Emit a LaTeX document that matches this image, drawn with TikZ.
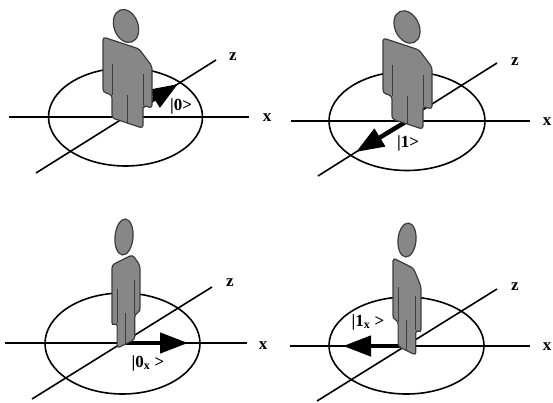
\documentclass[tikz,border=0pt]{standalone}
\usepackage{fontspec}
\setmainfont{Liberation Serif}
\usetikzlibrary{arrows.meta}

\definecolor{personGray}{HTML}{878787}
\definecolor{personEdge}{HTML}{3C3C3C}

\tikzset{
  axisline/.style={line width=1.6pt},
  orbit/.style={line width=1.6pt},
  ket/.style={line width=4.5pt, -{Triangle[length=28pt,width=20pt]}},
  lbl/.style={font=\bfseries\fontsize{17}{17}\selectfont, inner sep=0pt},
  torso/.style={fill=personGray, draw=personEdge, line width=1.2pt, rounded corners=3pt},
  headshape/.style={fill=personGray, draw=personEdge, line width=1.2pt},
  % standing figure, origin at the left shoulder, y grows downwards
  person/.pic={
    \filldraw[torso] (0,55) -- (0,0) -- (36,0) -- (49,13) -- (49,55) -- (40,55)
      -- (40,78) -- (9,78) -- (9,55) -- cycle;
    \draw[personEdge, line width=1pt] (9,24) -- (9,55) (40,24) -- (40,55)
      (24.5,50) -- (24.5,78);
  }
}

\begin{document}
\begin{tikzpicture}[x=1pt, y=-1pt]
\useasboundingbox (0,0) rectangle (553,403);

% |0> : spin along z
\coordinate (o1) at (125,117);
\coordinate (t1) at (178,84);
\draw[orbit] (125.5,117) ellipse (77 and 49);
\draw[axisline] (9,117) -- (249,117);
\draw[axisline] (36,173) -- (216,60);
\draw[ket] (o1) -- (t1);
\begin{scope}[shift={(103,37)}, yslant=-0.33]
  \pic[transform shape] {person};
\end{scope}
\draw[headshape, rotate around={20:(126,26)}] (126,26) ellipse (12 and 17);
\node[lbl] (x1) at (267,118) {x};
\node[lbl] (z1) at (233,57) {z};
\node[lbl] (k1) at (181,106) {|0>};

% |1> : spin against z
\coordinate (o2) at (407,121);
\coordinate (t2) at (356,152);
\draw[orbit] (407,121) ellipse (78 and 49.5);
\draw[axisline] (291,121) -- (530,121);
\draw[axisline] (318,176) -- (497,63);
\draw[ket] (o2) -- (t2);
\begin{scope}[shift={(383,38)}, yslant=-0.33]
  \pic[transform shape] {person};
\end{scope}
\draw[headshape, rotate around={25:(407,27)}] (407,27) ellipse (12 and 17);
\node[lbl] (x2) at (547,122) {x};
\node[lbl] (z2) at (515,62) {z};
\node[lbl] (k2) at (408,143) {|1>};

% |0_x> : spin along x
\coordinate (o3) at (122,343);
\coordinate (t3) at (188,343);
\draw[orbit] (122.5,343.5) ellipse (77.5 and 50.5);
\draw[axisline] (5,343) -- (247,343);
\draw[axisline] (32,399) -- (212,287);
\draw[ket] (o3) -- (t3);
\begin{scope}[shift={(112,265)}, yslant=0.5, xscale=0.57, yscale=1.1]
  \pic[transform shape] {person};
\end{scope}
\draw[headshape, rotate around={-5:(124,237)}] (124,237) ellipse (9 and 18);
\node[lbl] (x3) at (263,346) {x};
\node[lbl] (z3) at (230,283) {z};
\node[lbl] (k3) at (148,363) {|0\textsubscript{x} >};

% |1_x> : spin against x
\coordinate (o4) at (406,346);
\coordinate (t4) at (343,346);
\draw[orbit] (406.5,345.5) ellipse (77.5 and 48.5);
\draw[axisline] (290,346) -- (530,346);
\draw[axisline] (317,401) -- (497,289);
\draw[ket] (o4) -- (t4);
\begin{scope}[shift={(393,258)}, yslant=-0.5, xscale=0.57, yscale=1.1]
  \pic[transform shape] {person};
\end{scope}
\draw[headshape, rotate around={-5:(407,240)}] (407,240) ellipse (9 and 17);
\node[lbl] (x4) at (547,347) {x};
\node[lbl] (z4) at (515,287) {z};
\node[lbl] (k4) at (368,322) {|1\textsubscript{x} >};

\end{tikzpicture}
\end{document}
